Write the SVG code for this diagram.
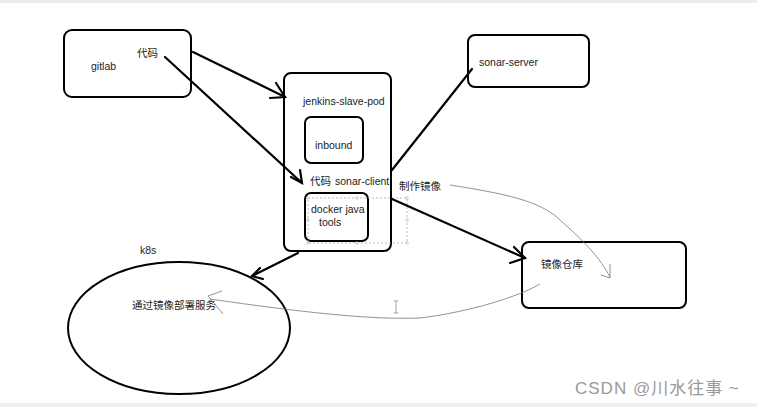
<svg xmlns="http://www.w3.org/2000/svg" width="757" height="407" viewBox="0 0 757 407">
<defs>
<style>
.box{fill:#fff;stroke:#000;stroke-width:2}
.t{font-family:"Liberation Sans","Noto Sans CJK SC",sans-serif;font-size:10.5px;fill:#222}
.ln{fill:none;stroke:#000;stroke-width:2.2;stroke-linecap:round}
.thin{fill:none;stroke:#777;stroke-width:0.8}
.sel{fill:none;stroke:#aaa;stroke-width:0.8;stroke-dasharray:2 2}
.h{fill:#fff;stroke:#aaa;stroke-width:0.6}
</style>
</defs>
<rect width="757" height="407" fill="#fff"/>
<rect x="0" y="0" width="757" height="3" fill="#ececec"/>
<rect x="0" y="403" width="757" height="4" fill="#f0f0f0"/>

<g id="gitlab">
<rect class="box" x="64" y="30" width="127" height="67" rx="8"/>
<text class="t" x="91" y="70">gitlab</text>
<text class="t" x="137" y="57">代码</text>
</g>

<g id="jenkins-slave-pod">
<rect class="box" x="284" y="73" width="107" height="178" rx="7"/>
<text class="t" x="303" y="105">jenkins-slave-pod</text>
<text class="t" x="310" y="185">代码</text>
<text class="t" x="335" y="185">sonar-client</text>
</g>

<g id="inbound">
<rect class="box" x="305" y="117" width="58" height="46" rx="6"/>
<text class="t" x="315" y="149">inbound</text>
</g>

<g id="docker-java-tools">
<rect class="box" x="305" y="193" width="63" height="48" rx="6"/>
<text class="t" x="311" y="213">docker java</text>
<text class="t" x="319" y="226">tools</text>
</g>

<g id="selection">
<rect class="sel" x="308" y="198" width="99" height="45"/>
<circle class="h" cx="308" cy="198" r="1.3"/>
<circle class="h" cx="357" cy="198" r="1.3"/>
<circle class="h" cx="407" cy="198" r="1.3"/>
<circle class="h" cx="308" cy="220" r="1.3"/>
<circle class="h" cx="407" cy="220" r="1.3"/>
<circle class="h" cx="308" cy="243" r="1.3"/>
<circle class="h" cx="357" cy="243" r="1.3"/>
<circle class="h" cx="407" cy="243" r="1.3"/>
</g>

<g id="sonar-server">
<rect class="box" x="468" y="35" width="121" height="52" rx="7"/>
<text class="t" x="479" y="66">sonar-server</text>
</g>

<g id="registry">
<rect class="box" x="522" y="242" width="164" height="66" rx="7"/>
<text class="t" x="541" y="268">镜像仓库</text>
</g>

<g id="k8s">
<ellipse cx="179" cy="328" rx="111" ry="66" fill="none" stroke="#000" stroke-width="2"/>
<text class="t" x="140" y="254">k8s</text>
<text class="t" x="132" y="309">通过镜像部署服务</text>
</g>

<g id="labels">
<text class="t" x="399" y="190">制作镜像</text>
</g>

<g id="connectors">
<path class="ln" d="M193 52 L285 97"/>
<path class="ln" d="M276 83 L285 97 L270 98"/>
<path class="ln" d="M165 57 L302 183"/>
<path class="ln" d="M291 177 L302 183 L300 170"/>
<path class="ln" d="M392 170 L472 69"/>
<path class="ln" d="M392 199 L525 258"/>
<path class="ln" d="M514 247 L525 258 L510 263"/>
<path class="ln" d="M298 253 L252 276"/>
<path class="ln" d="M260 268 L252 276 L263 279"/>
<path class="thin" d="M450 185 C500 193 540 200 560 220 C585 242 600 258 610 277"/>
<path class="thin" d="M610 264 L610 278 L601 275"/>
<path class="thin" d="M540 284 C520 296 470 312 420 318 C370 320 300 312 210 299"/>
<path class="thin" d="M222 291 L208 296 L223 314"/>
</g>

<g id="cursor">
<path d="M396 301 L396 313 M393.5 301 L398.5 301 M393.5 313 L398.5 313" stroke="#999" stroke-width="0.9" fill="none"/>
</g>

<text x="575" y="394" font-family="'Liberation Sans','Noto Sans CJK SC',sans-serif" font-size="17" letter-spacing="1" fill="#9a9a9a">CSDN @川水往事 ~</text>
</svg>
